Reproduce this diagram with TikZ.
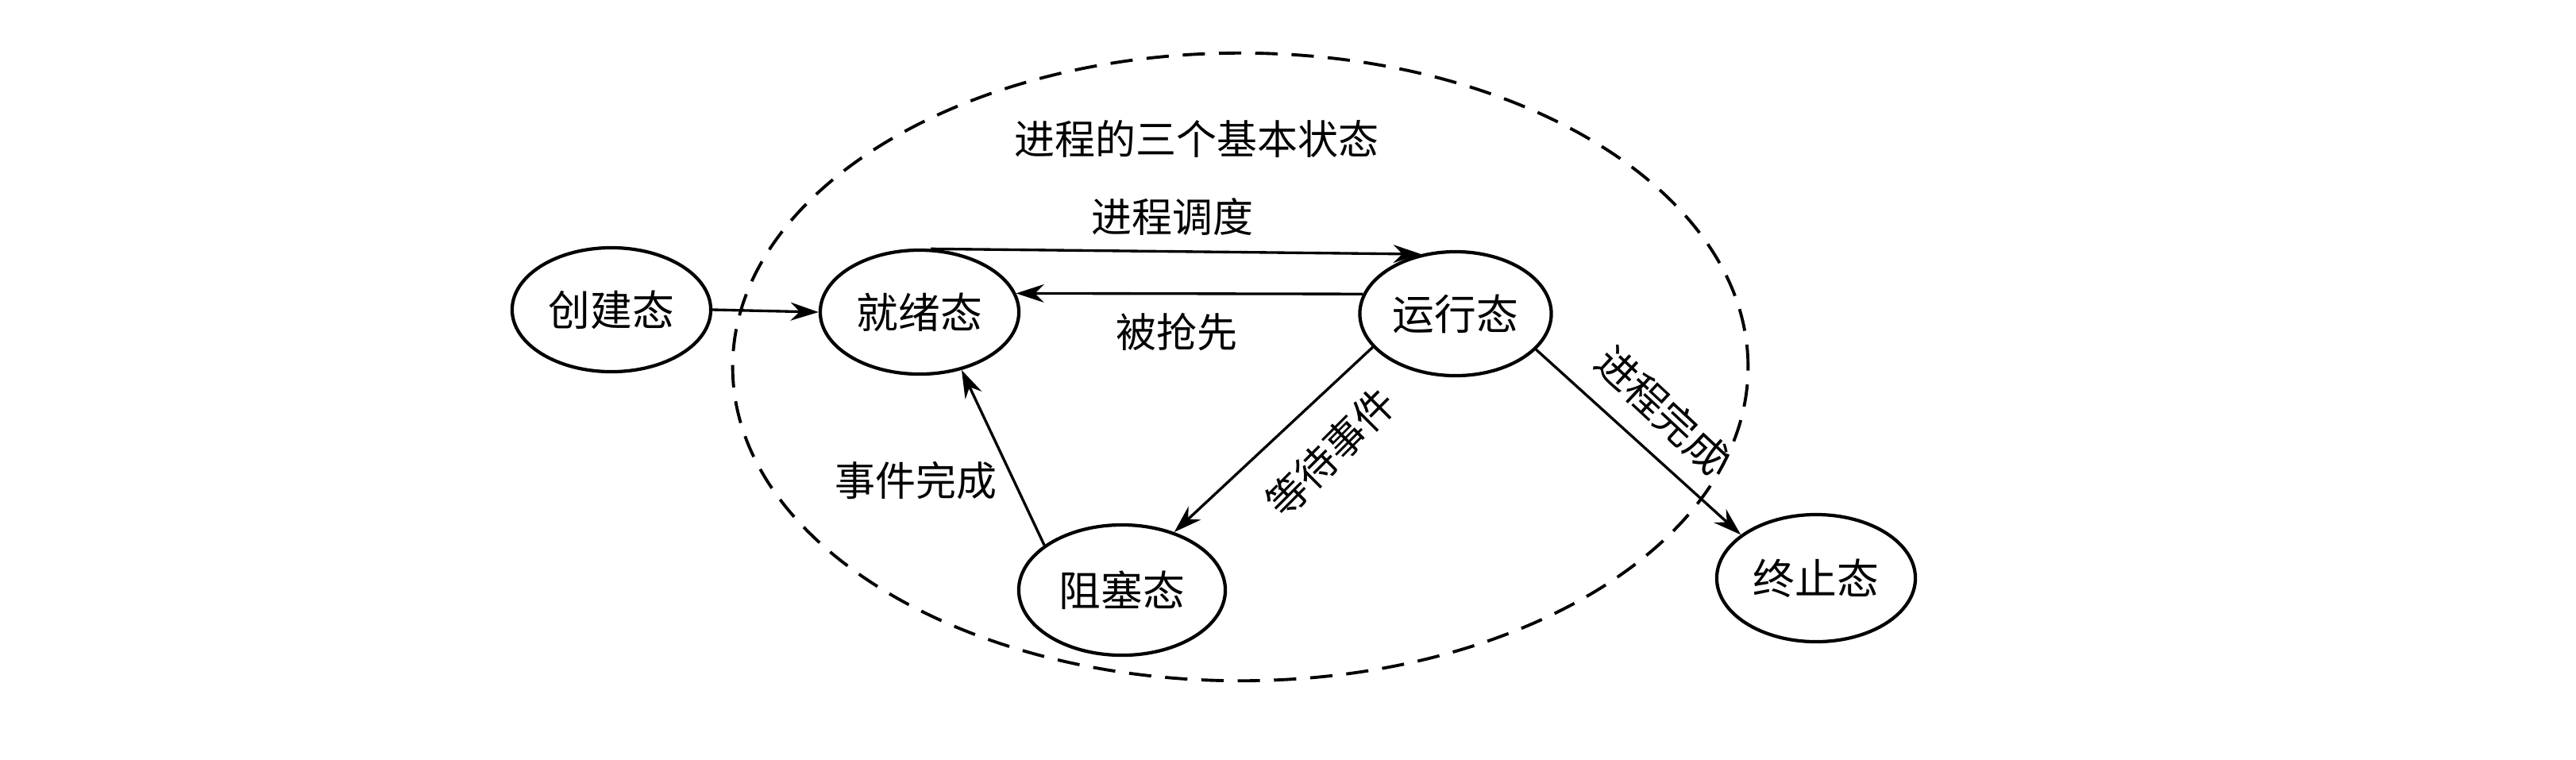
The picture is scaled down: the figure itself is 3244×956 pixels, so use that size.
\documentclass[tikz,border=0pt]{standalone}
\usepackage{fontspec}
\newfontfamily\cjk{Noto Sans CJK SC}
\usetikzlibrary{shapes.geometric,arrows.meta}
\begin{document}
\begin{tikzpicture}[x={(0.01cm,0)},y={(0,-0.01cm)},
  state/.style={ellipse,draw,line width=1.2pt,inner sep=0pt,minimum width=2.5cm,minimum height=1.56cm,font=\cjk\fontsize{15}{18}\selectfont},
  lbl/.style={font=\cjk\fontsize{14.5}{17}\selectfont,inner sep=0pt},
  arr/.style={line width=0.95pt,-{Stealth[length=10pt,width=6.5pt]}},
  group/.style={ellipse,draw,dash pattern=on 8pt off 5pt,line width=1.1pt,minimum width=12.78cm,minimum height=7.9cm,inner sep=0pt}]
\fill[white] (0,0) rectangle (3244,956);
\useasboundingbox (0,0) rectangle (3244,956);
% group boundary
\node[group] (grp) at (1562,462) {};
\node[lbl] (grpl) at (1507,175) {进程的三个基本状态};
% states
\node[state] (cj) at (770,390) {创建态};
\node[state] (jx) at (1158,393) {就绪态};
\node[state,minimum width=2.41cm] (yx) at (1833,395) {运行态};
\node[state,minimum width=2.6cm,minimum height=1.64cm] (bs) at (1413,743) {阻塞态};
\node[state,minimum height=1.6cm] (zz) at (2287,728) {终止态};
% transitions
\draw[arr] (cj.east) -- (jx.west);
\draw[arr] (jx.80) -- (yx.120);
\draw[arr] (yx.168) -- (jx.11);
\draw[arr] (yx.202) -- (bs.48);
\draw[arr] (bs.150) -- (jx.306);
\draw[arr] (yx.336) -- (zz.150);
% labels
\node[lbl] (l1) at (1476,273) {进程调度};
\node[lbl] (l2) at (1482,418) {被抢先};
\node[lbl] (l3) at (1153,605) {事件完成};
\node[lbl,rotate=45] (l4) at (1676,570) {等待事件};
\node[lbl,rotate=-43] (l5) at (2093,516) {进程完成};
\end{tikzpicture}
\end{document}
